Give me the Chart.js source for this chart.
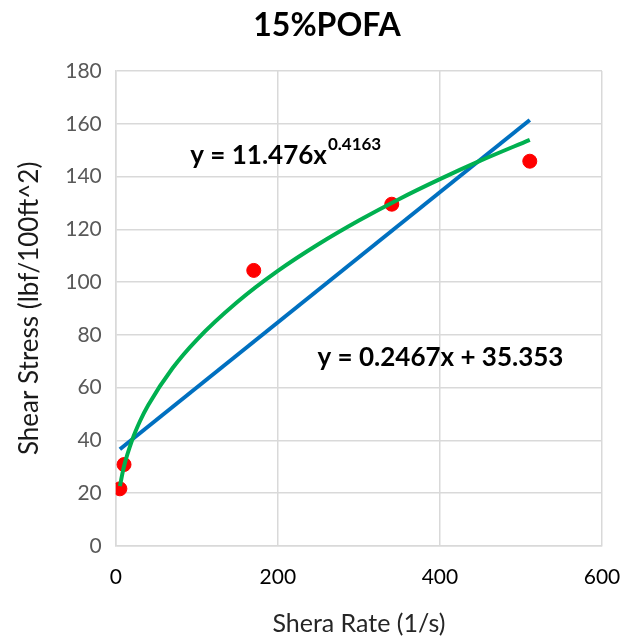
<!DOCTYPE html>
<html><head><meta charset="utf-8">
<script src="https://cdn.jsdelivr.net/npm/chart.js@4.4.0/dist/chart.umd.min.js"></script>
<style>html,body{margin:0;padding:0;background:#fff}#wrap{width:640px;height:639px}</style>
</head><body><div id="wrap"><canvas id="c" width="640" height="639"></canvas></div>
<script>
const title = "15%POFA";
const xTitle = "Shera Rate (1/s)";
const yTitle = "Shear Stress (lbf/100ft^2)";
const shearRate = [5.11, 10.22, 170.3, 340.6, 510.9];
const shearStress = [21.6, 30.8, 104.4, 129.5, 145.8];
const linearX = [5.11, 510.9];
const linearY = [36.6, 161.4];
const powerX = [5.11, 10, 20, 30, 40, 70, 100, 150, 200, 250, 300, 350, 400, 450, 510.9];
const powerY = [22.6, 29.9, 39.9, 47.3, 53.3, 67.3, 78.1, 92.4, 104.2, 114.3, 123.3, 131.5, 139.0, 146.0, 153.9];
const powerLabel = ["y = 11.476x", "0.4163"];
const linearLabel = "y = 0.2467x + 35.353";
const powerLabelPos = [92, 148];
const linearLabelPos = [249, 71.5];

const FONT = "Lato, 'Open Sans', sans-serif";
const pts = (xs, ys) => xs.map((x, i) => ({x, y: ys[i]}));

const labelPlugin = {
  id: 'eqLabels',
  afterDatasetsDraw(chart) {
    const {ctx, scales: {x, y}} = chart;
    ctx.save();
    ctx.fillStyle = '#000';
    ctx.textBaseline = 'middle';
    ctx.textAlign = 'center';
    ctx.font = "bold 32px " + FONT;
    ctx.fillText(title, chart.width / 2 + 7, 26);
    ctx.textAlign = 'left';
    ctx.font = "bold 26px " + FONT;
    let px = x.getPixelForValue(powerLabelPos[0]);
    let py = y.getPixelForValue(powerLabelPos[1]);
    ctx.fillText(powerLabel[0], px, py);
    const w = ctx.measureText(powerLabel[0]).width;
    ctx.font = "bold 17px " + FONT;
    ctx.fillText(powerLabel[1], px + w + 1, py - 11);
    ctx.font = "bold 26px " + FONT;
    ctx.fillText(linearLabel, x.getPixelForValue(linearLabelPos[0]), y.getPixelForValue(linearLabelPos[1]));
    ctx.restore();
  }
};

new Chart(document.getElementById('c'), {
  type: 'scatter',
  data: {
    datasets: [
      {label: 'Linear', type: 'line', data: pts(linearX, linearY), borderColor: '#0070C0', borderWidth: 4, pointRadius: 0, fill: false, order: 2},
      {label: 'Power', type: 'line', data: pts(powerX, powerY), borderColor: '#00B050', borderWidth: 4, pointRadius: 0, fill: false, cubicInterpolationMode: 'monotone', order: 1},
      {label: 'Data', data: pts(shearRate, shearStress), backgroundColor: '#FF0000', borderColor: '#FF0000', pointRadius: 7, order: 3}
    ]
  },
  options: {
    responsive: false,
    animation: false,
    layout: {padding: {left: 10, right: 38, top: 71, bottom: 0}},
    plugins: {
      legend: {display: false},
      tooltip: {enabled: false},
      title: {display: false}
    },
    scales: {
      x: {
        type: 'linear', min: 0, max: 600,
        ticks: {stepSize: 200, color: '#000', font: {family: FONT, size: 21}, padding: 19},
        grid: {color: '#d9d9d9', lineWidth: 1.5, drawTicks: false},
        border: {color: '#d9d9d9', width: 1.5},
        title: {display: true, text: xTitle, color: '#262626', font: {family: FONT, size: 25}, padding: {top: 0, bottom: 0}}
      },
      y: {
        min: 0, max: 180,
        ticks: {stepSize: 20, color: '#595959', font: {family: FONT, size: 21}, padding: 14},
        grid: {color: '#d9d9d9', lineWidth: 1.5, drawTicks: false},
        border: {color: '#d9d9d9', width: 1.5},
        title: {display: true, text: yTitle, color: '#1a1a1a', font: {family: FONT, size: 26}, padding: {bottom: 6}}
      }
    }
  },
  plugins: [labelPlugin]
});
</script></body></html>
